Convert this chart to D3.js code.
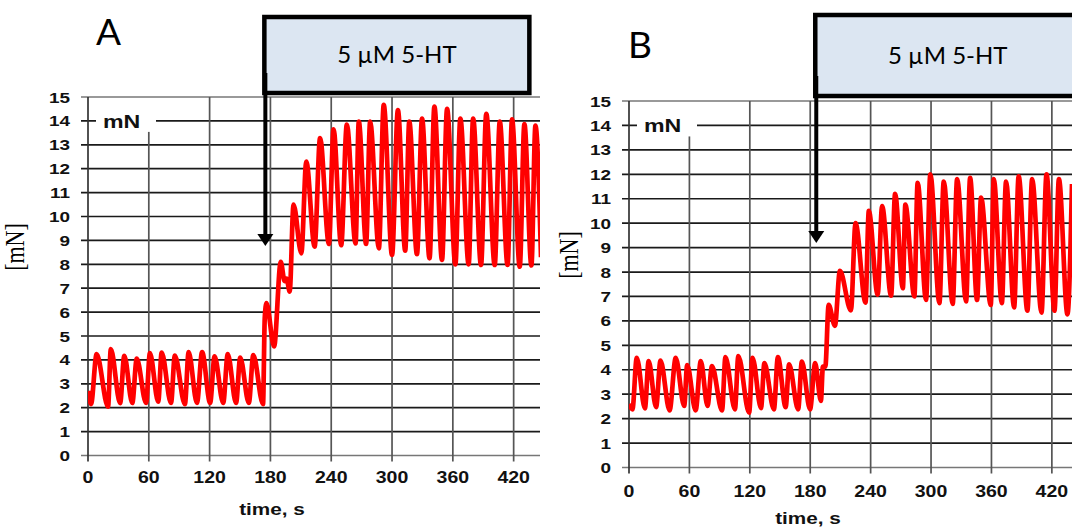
<!DOCTYPE html>
<html>
<head>
<meta charset="utf-8">
<script src="https://cdn.jsdelivr.net/npm/d3@7"></script>
<style>
  body { margin: 0; background: #fff; }
</style>
</head>
<body>
<svg id="chart" width="1072" height="530"></svg>
<script>
const timeTicks = [0, 60, 120, 180, 240, 300, 360, 420];
const forceTicks = [0, 1, 2, 3, 4, 5, 6, 7, 8, 9, 10, 11, 12, 13, 14, 15];
const treatment = "5 µM 5-HT";
const unitLabel = "mN";
const yTitle = "[mN]";
const xTitle = "time, s";

// turning points of the force traces, [time s, force mN]
const traceA = [
  [0, 2.7], [3, 2.15], [8.5, 4.24], [19.8, 2.04], [22.5, 4.45], [31.7, 2.19],
  [35.8, 4.17], [43.7, 2.2], [48.1, 4.05], [57.3, 2.2], [61.1, 4.28], [69.3, 2.25],
  [72.7, 4.31], [81.9, 2.2], [85.7, 4.18], [95.6, 2.15], [99.3, 4.33], [107.5, 2.2],
  [112.6, 4.33], [120.5, 2.2], [124.9, 4.15], [133.4, 2.2], [137.9, 4.24], [146.1, 2.2],
  [150.2, 4.1], [158.7, 2.2], [163.1, 4.2], [172.7, 2.15], [174.4, 5.75], [176.1, 6.38],
  [183.6, 4.56], [190.2, 8.1], [194, 7.3], [196, 7.4], [199, 6.86], [202.8, 10.5],
  [210.5, 8.46], [215.4, 12.3], [223.6, 8.74], [229, 13.28], [237.7, 8.85], [242.3, 13.65],
  [249.8, 8.8], [255.4, 13.85], [264, 8.87], [267.2, 13.97], [274.4, 8.85], [278.4, 13.97],
  [287, 8.67], [291.8, 14.67], [300, 8.39], [305.8, 14.45], [313, 8.57], [317, 13.97],
  [324.6, 8.42], [329.6, 14.1], [337, 8.25], [341.8, 14.6], [349.3, 8.18], [354.3, 14.5],
  [362.5, 8.0], [367.4, 14.1], [375.6, 8.0], [380, 14.1], [387.8, 7.97], [393, 14.3],
  [401.3, 7.97], [406.3, 13.97], [414, 7.97], [418.4, 14.07], [426, 7.9], [430.6, 13.87],
  [437.5, 7.95], [441.5, 13.8], [447, 8.3]
];

const traceB = [
  [0, 2.6], [3.4, 2.38], [7.7, 4.49], [15.8, 2.42], [19.5, 4.35], [26.9, 2.47],
  [31.3, 4.38], [40.3, 2.34], [46.4, 4.49], [54.8, 2.52], [57.8, 4.19], [66.2, 2.34],
  [71.3, 4.35], [78, 2.52], [82.4, 4.15], [92.4, 2.34], [95.8, 4.52], [105.2, 2.38],
  [108.6, 4.56], [119.3, 2.24], [122.7, 4.49], [131.1, 2.43], [134.5, 4.27], [143.9, 2.38],
  [147.9, 4.52], [155.6, 2.47], [159, 4.22], [168, 2.38], [171.7, 4.33], [179.8, 2.38],
  [184.9, 4.27], [190.6, 2.73], [192.6, 4.13], [195, 4.13], [198.3, 6.66], [204.5, 5.8],
  [209.5, 8.05], [220.4, 6.43], [225, 10.0], [234.9, 6.75], [238.2, 10.5], [247, 7.07],
  [251.4, 10.7], [260.3, 7.03], [264.3, 11.2], [272, 7.34], [274.5, 10.76], [283.4, 7.0],
  [286.7, 11.65], [295, 6.86], [299.3, 12.0], [308.3, 6.73], [312.6, 11.7], [321.5, 6.7],
  [325.9, 11.8], [334.8, 6.8], [338.8, 11.85], [345.7, 6.86], [349.7, 11.05], [359.3, 6.65],
  [362.3, 11.8], [370.3, 6.73], [374.5, 11.7], [382.5, 6.55], [387, 11.92], [395.7, 6.42],
  [400.4, 11.8], [409.7, 6.34], [414.7, 12.0], [422.6, 6.42], [427, 11.8], [435.5, 6.27],
  [440, 11.6]
];

const panels = [
  {
    name: "A", data: traceA, start: 175,
    left: 88, right: 540, tEnd: 446, top: 97, bottom: 455.5,
    letter: [96, 45], boxTop: 17, boxBottom: 93, arrowTip: 246,
    xLabelY: 483, xTitle: [272, 515], yLabelX: 70, yTitle: [24, 247]
  },
  {
    name: "B", data: traceB, start: 186,
    left: 629, right: 1072, tEnd: 440, top: 101, bottom: 467.5,
    letter: [628, 58], boxTop: 15, boxBottom: 96, arrowTip: 243,
    xLabelY: 497, xTitle: [808, 524], yLabelX: 611, yTitle: [578, 255]
  }
];

const svg = d3.select("#chart");
const axisFont = "'Liberation Sans', Arial, sans-serif";
const boxWidth = 265;
const stretch = 1.22; // the chart's lettering is a little wide

function wideText(sel, x, y) {
  return sel.attr("transform", `translate(${x},${y}) scale(${stretch},1)`);
}

function drawPanel(p, i) {
  const g = svg.append("g");
  const x = d3.scaleLinear().domain([0, p.tEnd]).range([p.left, p.right]);
  const y = d3.scaleLinear().domain([0, 15]).range([p.bottom, p.top]);

  // horizontal grid
  g.append("g")
    .selectAll("line")
    .data(forceTicks)
    .join("line")
    .attr("x1", p.left - 7)
    .attr("x2", p.right)
    .attr("y1", (d) => y(d))
    .attr("y2", (d) => y(d))
    .attr("stroke", (d) => (d === 0 || d === 15 ? "#777" : "#1a1a1a"))
    .attr("stroke-width", 1.7);

  // vertical grid
  g.append("g")
    .selectAll("line")
    .data(timeTicks)
    .join("line")
    .attr("x1", (d) => x(d))
    .attr("x2", (d) => x(d))
    .attr("y1", (d) => (d === 60 ? p.top + 33 : p.top))
    .attr("y2", p.bottom + 6)
    .attr("stroke", (d) => (d === 0 ? "#333" : "#555"))
    .attr("stroke-width", 1.7);

  // "mN" tag on the 14 line
  g.append("rect")
    .attr("x", p.left + 8)
    .attr("y", y(14) - 11)
    .attr("width", 60)
    .attr("height", 22)
    .attr("fill", "#fff");
  g.append("text")
    .call(wideText, p.left + 15, y(14) + 7)
    .attr("font-family", axisFont)
    .attr("font-weight", "bold")
    .attr("font-size", 19)
    .attr("fill", "#111")
    .text(unitLabel);

  // tick labels
  g.append("g")
    .selectAll("text")
    .data(forceTicks)
    .join("text")
    .each(function (d) {
      wideText(d3.select(this), p.yLabelX, y(d) + 5.5);
    })
    .attr("text-anchor", "end")
    .attr("font-family", axisFont)
    .attr("font-weight", "bold")
    .attr("font-size", 15.5)
    .attr("fill", "#111")
    .text((d) => d);

  g.append("g")
    .selectAll("text")
    .data(timeTicks)
    .join("text")
    .each(function (d) {
      wideText(d3.select(this), x(d), p.xLabelY);
    })
    .attr("text-anchor", "middle")
    .attr("font-family", axisFont)
    .attr("font-weight", "bold")
    .attr("font-size", 16)
    .attr("fill", "#111")
    .text((d) => d);

  g.append("text")
    .call(wideText, p.xTitle[0], p.xTitle[1])
    .attr("text-anchor", "middle")
    .attr("font-family", axisFont)
    .attr("font-weight", "bold")
    .attr("font-size", 17)
    .attr("fill", "#111")
    .text(xTitle);

  g.append("text")
    .attr("transform", `translate(${p.yTitle[0]},${p.yTitle[1]}) scale(${stretch},1) rotate(-90)`)
    .attr("text-anchor", "middle")
    .attr("font-family", "'Liberation Serif', 'Times New Roman', serif")
    .attr("font-size", 22)
    .text(yTitle);

  // trace
  svg.append("clipPath")
    .attr("id", `clip-${i}`)
    .append("rect")
    .attr("x", p.left)
    .attr("y", 0)
    .attr("width", p.right - p.left)
    .attr("height", 530);

  const line = d3.line()
    .x((d) => x(d[0]))
    .y((d) => y(d[1]))
    .curve(d3.curveMonotoneX);

  g.append("path")
    .datum(p.data)
    .attr("clip-path", `url(#clip-${i})`)
    .attr("d", line)
    .attr("fill", "none")
    .attr("stroke", "#ff0000")
    .attr("stroke-width", 4.7)
    .attr("stroke-linejoin", "round");

  // treatment box and arrow
  const ax = x(p.start);
  g.append("rect")
    .attr("x", ax - 1)
    .attr("y", p.boxTop)
    .attr("width", boxWidth)
    .attr("height", p.boxBottom - p.boxTop)
    .attr("fill", "#dce6f2")
    .attr("stroke", "#000")
    .attr("stroke-width", 4.5);
  g.append("text")
    .attr("x", ax - 1 + boxWidth / 2)
    .attr("y", (p.boxTop + p.boxBottom) / 2 + 8)
    .attr("text-anchor", "middle")
    .attr("font-family", "Lato, 'Open Sans', sans-serif")
    .attr("font-size", 24)
    .text(treatment);

  g.append("line")
    .attr("x1", ax)
    .attr("x2", ax)
    .attr("y1", p.boxBottom - 20)
    .attr("y2", p.arrowTip - 10)
    .attr("stroke", "#000")
    .attr("stroke-width", 4);
  g.append("path")
    .attr("d", `M${ax - 8},${p.arrowTip - 12}L${ax + 8},${p.arrowTip - 12}L${ax},${p.arrowTip}Z`)
    .attr("fill", "#000");

  g.append("text")
    .attr("x", p.letter[0])
    .attr("y", p.letter[1])
    .attr("font-family", "Lato, 'Open Sans', sans-serif")
    .attr("font-size", 37)
    .text(p.name);
}

panels.forEach(drawPanel);
</script>
</body>
</html>
